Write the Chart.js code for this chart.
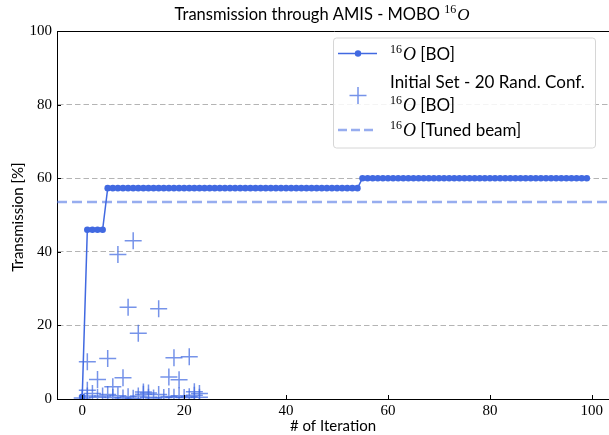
<!DOCTYPE html>
<html>
<head>
<meta charset="utf-8">
<script src="https://cdn.jsdelivr.net/npm/chart.js@4.4.1/dist/chart.umd.min.js"></script>
<style>
  html, body { margin: 0; padding: 0; background: #fff; overflow: hidden; }
  #wrap { width: 609px; height: 435px; position: relative; overflow: hidden; }
</style>
</head>
<body>
<div id="wrap"><canvas id="chart" width="613" height="435"></canvas></div>
<script>
// BO transmission per iteration (index = iteration number)
const boY = [
  0.6, 46, 46, 46, 46, 57.3, 57.3, 57.3, 57.3, 57.3,
  57.3, 57.3, 57.3, 57.3, 57.3, 57.3, 57.3, 57.3, 57.3, 57.3,
  57.3, 57.3, 57.3, 57.3, 57.3, 57.3, 57.3, 57.3, 57.3, 57.3,
  57.3, 57.3, 57.3, 57.3, 57.3, 57.3, 57.3, 57.3, 57.3, 57.3,
  57.3, 57.3, 57.3, 57.3, 57.3, 57.3, 57.3, 57.3, 57.3, 57.3,
  57.3, 57.3, 57.3, 57.3, 57.3, 60, 60, 60, 60, 60,
  60, 60, 60, 60, 60, 60, 60, 60, 60, 60,
  60, 60, 60, 60, 60, 60, 60, 60, 60, 60,
  60, 60, 60, 60, 60, 60, 60, 60, 60, 60,
  60, 60, 60, 60, 60, 60, 60, 60, 60, 60
];

// initial random configurations
const initX = [1, 1, 3, 5, 6, 7, 8, 9, 10, 11, 15, 17, 18, 19, 21, 22, 23, 12, 13,
  0, 1, 2, 3, 4, 5, 6, 7, 8, 9, 10, 11, 12, 13, 14, 15, 16, 17, 18, 19, 20, 21, 22, 23];
const initY = [10.1, 2.4, 5.3, 11, 3.3, 39.3, 5.8, 24.9, 43, 17.9, 24.5, 6, 11.2, 5.2, 11.5, 2, 1.5, 1.9, 1.6,
  0.3, 0.8, 1.5, 0.5, 0.8, 1.2, 0.4, 0.9, 0.3, 0.6, 0.2, 0.8, 1.3, 0.5, 0.3, 1.2, 0.4, 0.7, 0.5, 0.9, 0.4, 0.6, 1.0, 0.5];

const tunedBeam = 53.5;

const xMin = -4.95, xMax = 103.95;
const yMin = 0, yMax = 100;
const xTicks = [0, 20, 40, 60, 80, 100];
const yTicks = [0, 20, 40, 60, 80, 100];

const blue = '#4169E1';
const plusBlue = 'rgba(65,105,225,0.72)';
const dashBlue = 'rgba(65,105,225,0.55)';
const SANS = 'Lato, "DejaVu Sans", sans-serif';
const SERIF = '"Liberation Serif", "DejaVu Serif", serif';

// draw text made of parts: {t, sup, it}
function fontFor(p, size) {
  if (p.sup) return Math.round(size * 0.7) + 'px ' + SERIF;
  if (p.it) return 'italic ' + Math.round(size * 1.05) + 'px ' + SERIF;
  return size + 'px ' + SANS;
}
function richWidth(ctx, parts, size) {
  let w = 0;
  parts.forEach(function (p) {
    ctx.font = fontFor(p, size);
    w += ctx.measureText(p.t).width + (p.sup ? 1 : 0);
  });
  return w;
}
function drawRich(ctx, parts, x, y, size) {
  ctx.textBaseline = 'alphabetic';
  ctx.textAlign = 'left';
  parts.forEach(function (p) {
    ctx.font = fontFor(p, size);
    ctx.fillText(p.t, x, p.sup ? y - size * 0.42 : y);
    x += ctx.measureText(p.t).width + (p.sup ? 1 : 0);
  });
}

const decor = {
  id: 'decor',
  afterDraw: function (chart) {
    const ctx = chart.ctx;
    const a = chart.chartArea;
    const xs = chart.scales.x, ys = chart.scales.y;
    ctx.save();
    ctx.strokeStyle = '#000';
    ctx.lineWidth = 1;
    ctx.beginPath();
    ctx.moveTo(a.left, a.top + 0.5); ctx.lineTo(a.right, a.top + 0.5);
    // inward ticks
    xTicks.forEach(function (v) {
      const px = Math.round(xs.getPixelForValue(v)) + 0.5;
      ctx.moveTo(px, a.bottom); ctx.lineTo(px, a.bottom - 4);
    });
    yTicks.forEach(function (v) {
      const py = Math.round(ys.getPixelForValue(v)) + 0.5;
      ctx.moveTo(a.left, py); ctx.lineTo(a.left + 4, py);
    });
    ctx.stroke();

    ctx.fillStyle = '#000';
    // title
    const tParts = [{ t: 'Transmission through AMIS - MOBO ' }, { t: '16', sup: true }, { t: 'O', it: true }];
    const tw = richWidth(ctx, tParts, 16.5);
    drawRich(ctx, tParts, 322 - tw / 2, 20, 16.5);

    // axis labels
    ctx.font = '15px ' + SANS;
    ctx.textAlign = 'center';
    ctx.textBaseline = 'alphabetic';
    ctx.fillText('# of Iteration', 333, 431);
    ctx.save();
    ctx.translate(23, (a.top + a.bottom) / 2 + 2);
    ctx.rotate(-Math.PI / 2);
    ctx.fillText('Transmission [%]', 0, 0);
    ctx.restore();

    // legend
    const lx = 333, ly = 37.5, lw = 262, lh = 110;
    ctx.beginPath();
    ctx.roundRect(lx + 0.5, ly + 0.5, lw, lh, 3);
    ctx.fillStyle = 'rgba(255,255,255,0.85)';
    ctx.fill();
    ctx.strokeStyle = '#d6d6d6';
    ctx.stroke();

    ctx.fillStyle = '#000';
    const sym = 358, tx = 390, fs = 17;
    // row 1
    ctx.strokeStyle = blue; ctx.lineWidth = 1.5;
    ctx.beginPath(); ctx.moveTo(338, 53.5); ctx.lineTo(377, 53.5); ctx.stroke();
    ctx.fillStyle = blue;
    ctx.beginPath(); ctx.arc(sym, 53.5, 3.2, 0, Math.PI * 2); ctx.fill();
    ctx.fillStyle = '#000';
    drawRich(ctx, [{ t: '16', sup: true }, { t: 'O', it: true }, { t: ' [BO]' }], tx, 60, fs);
    // row 2
    ctx.strokeStyle = plusBlue; ctx.lineWidth = 1.5;
    ctx.beginPath();
    ctx.moveTo(sym - 8.5, 95.5); ctx.lineTo(sym + 8.5, 95.5);
    ctx.moveTo(sym, 87); ctx.lineTo(sym, 104);
    ctx.stroke();
    drawRich(ctx, [{ t: 'Initial Set - 20 Rand. Conf.' }], tx, 88, fs);
    drawRich(ctx, [{ t: '16', sup: true }, { t: 'O', it: true }, { t: ' [BO]' }], tx, 111, fs);
    // row 3
    ctx.strokeStyle = dashBlue; ctx.lineWidth = 2.5;
    ctx.setLineDash([9, 4]);
    ctx.beginPath(); ctx.moveTo(338, 130); ctx.lineTo(377, 130); ctx.stroke();
    ctx.setLineDash([]);
    drawRich(ctx, [{ t: '16', sup: true }, { t: 'O', it: true }, { t: ' [Tuned beam]' }], tx, 136, fs);
    ctx.restore();
  }
};

new Chart(document.getElementById('chart'), {
  type: 'scatter',
  data: {
    datasets: [
      {
        label: 'BO', type: 'line', order: 2,
        data: boY.map(function (y, i) { return { x: i, y: y }; }),
        borderColor: blue, backgroundColor: blue, borderWidth: 1.5,
        pointRadius: 3.3, pointHoverRadius: 3.3, pointBorderWidth: 0, tension: 0
      },
      {
        label: 'Initial', order: 1,
        data: initX.map(function (x, i) { return { x: x, y: initY[i] }; }),
        pointStyle: 'cross', pointRadius: 8.5, pointBorderWidth: 1.5,
        borderColor: plusBlue, backgroundColor: plusBlue
      },
      {
        label: 'Tuned', type: 'line', order: 3,
        data: [{ x: xMin, y: tunedBeam }, { x: xMax, y: tunedBeam }],
        borderColor: dashBlue, borderWidth: 2.5, borderDash: [10, 5], pointRadius: 0
      }
    ]
  },
  options: {
    responsive: false, animation: false, events: [],
    layout: { autoPadding: false, padding: { top: 31, right: 1, left: 0, bottom: 0 } },
    plugins: { legend: { display: false }, tooltip: { enabled: false } },
    scales: {
      x: {
        type: 'linear', min: xMin, max: xMax,
        afterFit: function (s) { s.height = 36; },
        afterBuildTicks: function (s) { s.ticks = xTicks.map(function (v) { return { value: v }; }); },
        grid: { display: false, drawTicks: false },
        border: { display: true, color: '#000', width: 1 },
        ticks: { font: { family: SERIF, size: 15 }, color: '#000', padding: 3, maxRotation: 0 }
      },
      y: {
        type: 'linear', min: yMin, max: yMax,
        afterFit: function (s) { s.width = 57; },
        afterBuildTicks: function (s) { s.ticks = yTicks.map(function (v) { return { value: v }; }); },
        grid: {
          drawTicks: false,
          color: function (c) { return (c.tick && (c.tick.value === 0 || c.tick.value === 100)) ? 'rgba(0,0,0,0)' : '#b4b4b4'; },
          lineWidth: 1
        },
        border: { display: true, color: '#000', width: 1, dash: [5.5, 3] },
        ticks: { font: { family: SERIF, size: 15 }, color: '#000', padding: 5 }
      }
    }
  },
  plugins: [decor]
});
</script>
</body>
</html>
